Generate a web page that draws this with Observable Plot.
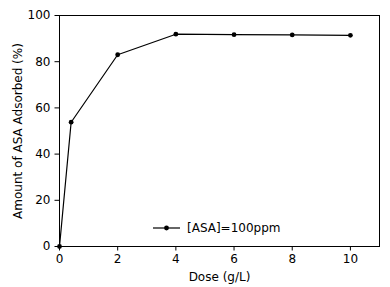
<!DOCTYPE html>
<html><head><meta charset="utf-8">
<script src="https://cdn.jsdelivr.net/npm/d3@7"></script>
<script src="https://cdn.jsdelivr.net/npm/@observablehq/plot@0.6"></script>
<style>
body{margin:0;background:#fff;}
#wrap{position:relative;width:390px;height:287px;font-family:"DejaVu Sans",sans-serif;}
#legend{position:absolute;left:153px;top:221px;display:flex;align-items:center;font-size:12px;line-height:14px;color:#000;}
#legend span{margin-left:7px;}
</style>
</head><body>
<div id="wrap"><div id="legend"></div></div>
<script>
const dose = [0, 0.4, 2, 4, 6, 8, 10];
const adsorbed = [0, 53.8, 83.0, 91.9, 91.7, 91.6, 91.4];
const xTicks = [0, 2, 4, 6, 8, 10];
const yTicks = [0, 20, 40, 60, 80, 100];
const seriesLabel = "[ASA]=100ppm";
const xLabel = "Dose (g/L)";
const yLabel = "Amount of ASA Adsorbed (%)";

const data = dose.map((d, i) => ({dose: d, value: adsorbed[i]}));

const chart = Plot.plot({
  width: 390, height: 287,
  marginLeft: 59, marginRight: 11, marginTop: 15, marginBottom: 41,
  style: {fontFamily: "DejaVu Sans, sans-serif", fontSize: "12px", color: "#000", background: "#fff"},
  x: {domain: [0, 11]},
  y: {domain: [0, 100]},
  marks: [
    Plot.frame({stroke: "#000", strokeWidth: 1}),
    Plot.axisX({ticks: xTicks, tickSize: 4.5, tickPadding: 3, label: xLabel, labelAnchor: "center", labelArrow: "none", labelOffset: 34, stroke: "#000"}),
    Plot.axisY({ticks: yTicks, tickSize: 4.5, tickPadding: 4.5, label: yLabel, labelAnchor: "center", labelArrow: "none", labelOffset: 46, stroke: "#000"}),
    Plot.line(data, {x: "dose", y: "value", stroke: "#000", strokeWidth: 1.2}),
    Plot.dot(data, {x: "dose", y: "value", fill: "#000", r: 2.4})
  ]
});
document.getElementById("wrap").prepend(chart);

const lg = document.getElementById("legend");
lg.innerHTML = `<svg width="27" height="8"><line x1="0" x2="27" y1="4" y2="4" stroke="#000" stroke-width="1.2"/><circle cx="13.5" cy="4" r="2.4" fill="#000"/></svg><span>${seriesLabel}</span>`;
</script>
</body></html>
